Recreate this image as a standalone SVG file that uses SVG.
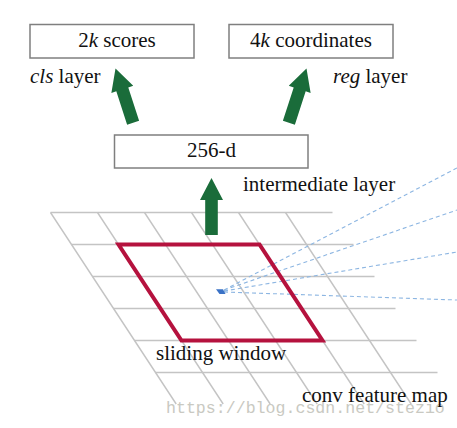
<svg xmlns="http://www.w3.org/2000/svg" width="457" height="428" viewBox="0 0 457 428">
<style>
.box{fill:#fff;stroke:#7f7f7f;stroke-width:1.5}
.t{font-size:21px;fill:#111}
.i{font-style:italic}
.grid{stroke:#c4c4c4;stroke-width:1.4;fill:none}
.arrow{fill:#1a6c3a}
.ray{stroke:#8db6e2;stroke-width:1.1;stroke-dasharray:4 3;fill:none}
.wm{font-size:16.6px;fill:#c9c9c2}
</style>
<defs>
<path id="arr" d="M0,0 L11.5,22 L6.3,22 L6.3,57 L-6.3,57 L-6.3,22 L-11.5,22 Z"/>
</defs>
<rect width="457" height="428" fill="#fff"/>
<g id="feature-map" class="grid">
<path d="M50.5,212.5H332.5M71.5,244.5H353.5M92.5,276.5H374.5M113.5,308.5H395.5M134.5,340.5H416.5M155.5,372.5H437.5"/>
<path d="M50.5,212.5L176.2,404M97.5,212.5L223.2,404M144.5,212.5L270.2,404M191.5,212.5L317.2,404M238.5,212.5L364.2,404M285.5,212.5L411.2,404"/>
</g>
<g id="rays">
<path class="ray" d="M224,290L457,168M224,290L457,210M224,291L457,252M224,292L457,300"/>
</g>
<g id="sliding-window">
<path d="M118.5,244.5H259.5L322.5,340.5H181.5Z" fill="none" stroke="#b5123e" stroke-width="4" stroke-linejoin="miter"/>
<path d="M216,289.3H223L225.5,294H219.5Z" fill="#3a72c6"/>
</g>
<text class="wm" font-family="'Liberation Mono', monospace" x="166" y="413">https://blog.csdn.net/stezio</text>
<g id="box-cls">
<rect class="box" x="30" y="24.5" width="164" height="33.5"/>
<text class="t" font-family="'Liberation Serif', serif" x="117" y="47" text-anchor="middle">2<tspan class="i">k</tspan> scores</text>
</g>
<g id="box-reg">
<rect class="box" x="229" y="24.5" width="164" height="33.5"/>
<text class="t" font-family="'Liberation Serif', serif" x="311" y="47" text-anchor="middle">4<tspan class="i">k</tspan> coordinates</text>
</g>
<g id="box-256">
<rect class="box" x="114.5" y="135" width="193.5" height="33"/>
<text class="t" font-family="'Liberation Serif', serif" x="211.5" y="157" text-anchor="middle">256-d</text>
</g>
<g id="labels" font-family="'Liberation Serif', serif">
<text class="t" x="30" y="83"><tspan class="i">cls</tspan> layer</text>
<text class="t" x="333" y="83"><tspan class="i">reg</tspan> layer</text>
<text class="t" x="243" y="191">intermediate layer</text>
<text class="t" x="156" y="360">sliding window</text>
<text class="t" x="302" y="402">conv feature map</text>
</g>
<g id="connectors" class="arrow">
<use href="#arr" transform="translate(115.5,68.5) rotate(-18)"/>
<use href="#arr" transform="translate(306.5,68.5) rotate(18)"/>
<use href="#arr" transform="translate(211.5,178)"/>
</g>
</svg>
